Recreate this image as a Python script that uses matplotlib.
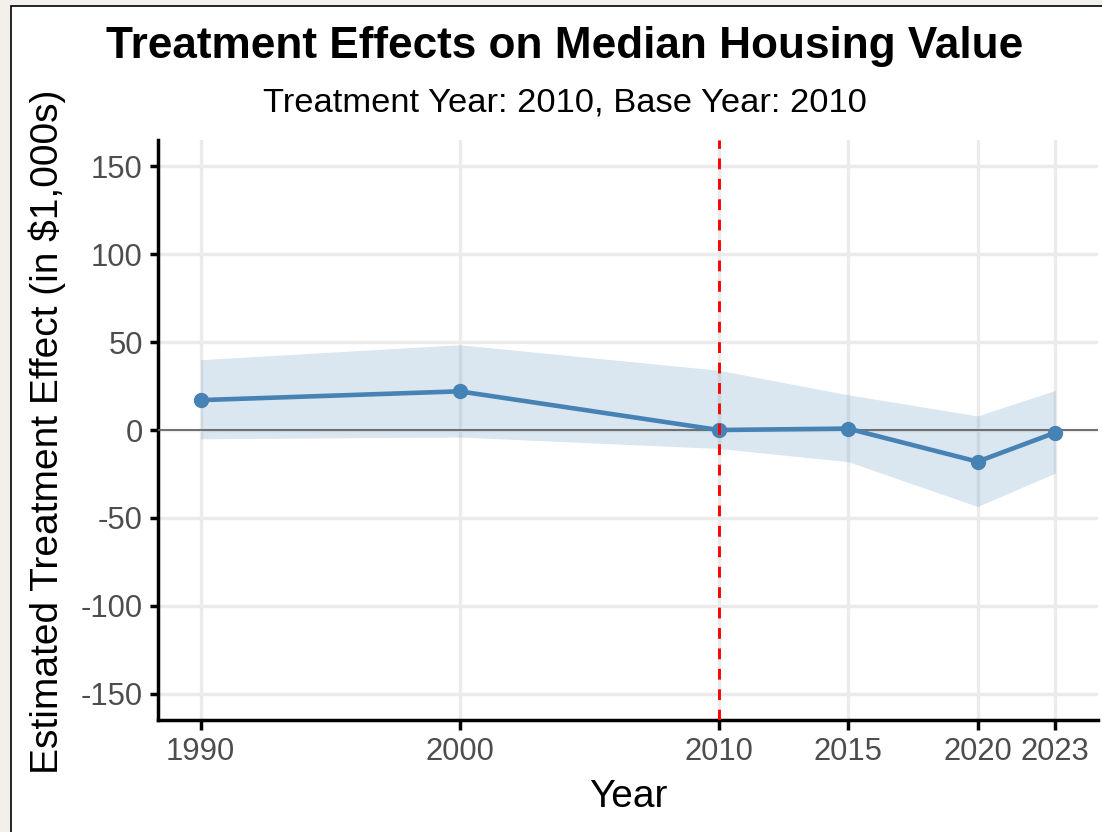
import matplotlib
matplotlib.use("Agg")
import matplotlib.pyplot as plt
import matplotlib.patches as patches

# data
years = [1990, 2000, 2010, 2015, 2020, 2023]
effect = [17, 22, 0, 0.8, -18, -1.5]
ci_low = [-5, -4, -10.5, -18, -43.5, -24.5]
ci_high = [40, 48.5, 34, 20, 8, 22.5]
y_ticks = [-150, -100, -50, 0, 50, 100, 150]

W, H = 1102, 832
plt.rcParams['font.family'] = ['Liberation Sans', 'DejaVu Sans']
plt.rcParams['axes.unicode_minus'] = False

fig = plt.figure(figsize=(W / 100, H / 100), dpi=100)
fig.patch.set_facecolor('#f3f0ec')

# white card with a black border, cropped at right and bottom
card = patches.Rectangle((10.5 / W, -0.05), 1.2, 1.05 - 6 / H,
                         transform=fig.transFigure, fc='white', ec='black',
                         lw=1.2, zorder=-10)
fig.patches.append(card)

ax = fig.add_axes([158 / W, 1 - 720 / H, (1098 - 158) / W, (720 - 140) / H])
ax.set_facecolor('none')

# ribbon, zero line, estimates, treatment year
ax.fill_between(years, ci_low, ci_high, color='#4682B4', alpha=0.2, lw=0, zorder=2)
ax.axhline(0, color='#666666', lw=1.3, zorder=3)
ax.plot(years, effect, color='#4682B4', lw=3.3, zorder=4)
ax.plot(years, effect, 'o', color='#4682B4', ms=10, zorder=5)
ax.axvline(2010, color='red', lw=2.1, dashes=(3.7, 3.3), zorder=6)

ax.set_xlim(1988.35, 2024.65)
ax.set_ylim(-165, 165)
ax.set_xticks(years)
ax.set_xticklabels([str(y) for y in years])
ax.set_yticks(y_ticks)

# grid and axes
ax.grid(True, color='#ebebeb', lw=2.4, zorder=1)
ax.set_axisbelow(True)
for s in ['top', 'right']:
    ax.spines[s].set_visible(False)
for s in ['left', 'bottom']:
    ax.spines[s].set_linewidth(2.5)
    ax.spines[s].set_color('black')
    ax.spines[s].set_capstyle('projecting')
ax.tick_params(axis='both', colors='black', width=2.5, labelsize=22.3,
               labelcolor='#4d4d4d')
ax.tick_params(axis='x', length=7, pad=5)
ax.tick_params(axis='y', length=6, pad=5)

# titles
fig.text(565 / W, 1 - 58 / H, 'Treatment Effects on Median Housing Value',
         ha='center', va='baseline', fontsize=31.8, fontweight='bold')
fig.text(565 / W, 1 - 112 / H, 'Treatment Year: 2010, Base Year: 2010',
         ha='center', va='baseline', fontsize=24.8)
fig.text(628 / W, 1 - 807 / H, 'Year', ha='center', va='baseline', fontsize=28)
fig.text(47 / W, 1 - 432 / H, 'Estimated Treatment Effect (in $1,000s)',
         ha='center', va='center', rotation=90, fontsize=28)

plt.savefig('out.png', dpi=100)
